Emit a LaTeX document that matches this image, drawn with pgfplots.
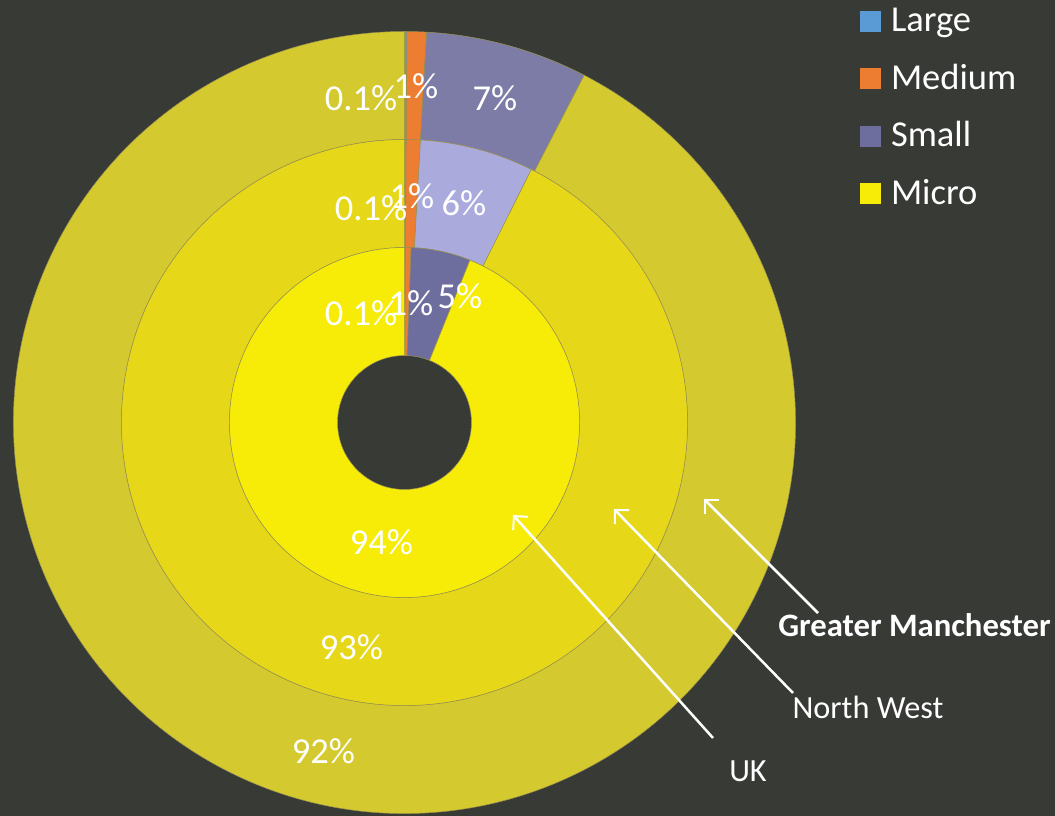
\documentclass[border=0pt]{standalone}
\usepackage{pgfplots}
\pgfplotsset{compat=1.18}
\usepackage{pgfplotstable}
\usepackage{fontspec}
\setmainfont{Carlito}
\usetikzlibrary{arrows.meta}

\definecolor{bgcol}{HTML}{383A35}
\definecolor{gmLarge}{HTML}{5B9BD5}
\definecolor{gmMedium}{HTML}{ED7D31}
\definecolor{gmSmall}{HTML}{7C7CA6}
\definecolor{gmMicro}{HTML}{D4C92E}
\definecolor{nwLarge}{HTML}{5B9BD5}
\definecolor{nwMedium}{HTML}{ED7D31}
\definecolor{nwSmall}{HTML}{AAAADC}
\definecolor{nwMicro}{HTML}{E6D818}
\definecolor{ukLarge}{HTML}{5B9BD5}
\definecolor{ukMedium}{HTML}{ED7D31}
\definecolor{ukSmall}{HTML}{6E6E9E}
\definecolor{ukMicro}{HTML}{F7EC08}
\definecolor{wedgeline}{HTML}{9A9250}

% Greater Manchester (outer ring)
\pgfplotstableread{
size pct
Large 0.1
Medium 0.8
Small 6.7
Micro 92.4
}\gmtable
% North West (middle ring)
\pgfplotstableread{
size pct
Large 0.1
Medium 0.8
Small 6.5
Micro 92.6
}\nwtable
% UK (inner ring)
\pgfplotstableread{
size pct
Large 0.1
Medium 0.5
Small 5.5
Micro 93.9
}\uktable

\newcommand\drawring[4]{% #1 table, #2 colour prefix, #3 inner radius, #4 outer radius
  \def\cum{0}%
  \pgfmathsetmacro\dr{#4-#3}%
  \pgfplotsforeachungrouped \i in {0,...,3}{%
    \pgfplotstablegetelem{\i}{pct}\of{#1}\let\val\pgfplotsretval
    \pgfplotstablegetelem{\i}{size}\of{#1}\let\nm\pgfplotsretval
    \pgfmathsetmacro\aA{90-3.6*\cum}%
    \pgfmathsetmacro\aB{90-3.6*(\cum+\val)}%
    \pgfmathsetmacro\aC{\aB+180}%
    \pgfmathsetmacro\cum{\cum+\val}%
    \edef\temp{\noexpand\fill[fill=#2\nm, draw=wedgeline, line width=0.5pt]
      (axis cs:404.5,393.5) ++(\aA:#4pt) arc[start angle=\aA, end angle=\aB, radius=#4pt]
      -- ++(\aC:\dr pt) arc[start angle=\aB, end angle=\aA, radius=#3pt] -- cycle;}%
    \temp
  }%
}

\begin{document}
\begin{tikzpicture}
\begin{axis}[
  width=1055pt, height=816pt, scale only axis,
  xmin=0, xmax=1055, ymin=0, ymax=816,
  axis lines=none, ticks=none, clip=false,
  legend style={draw=none, fill=none, text=white, font=\fontsize{36.5}{42}\selectfont,
    at={(axis cs:860,810)}, anchor=north west, row sep=23.5pt, column sep=10pt,
    inner sep=0pt, outer sep=0pt,
    nodes={inner sep=0pt, text height=26pt, text depth=8pt}},
  legend cell align=left,
  legend image code/.code={\fill[#1, draw=none] (0pt,-9pt) rectangle (21pt,12pt);},
]
\fill[bgcol] (axis cs:0,0) rectangle (axis cs:1055,816);
\coordinate (BL) at (axis cs:0,0);
\coordinate (TR) at (axis cs:1055,816);

\drawring{\gmtable}{gm}{283}{391}
\drawring{\nwtable}{nw}{175}{283}
\drawring{\uktable}{uk}{67}{175}

\addlegendimage{fill=gmLarge, draw=none}
\addlegendentry{Large}
\addlegendimage{fill=gmMedium, draw=none}
\addlegendentry{Medium}
\addlegendimage{fill=ukSmall, draw=none}
\addlegendentry{Small}
\addlegendimage{fill=ukMicro, draw=none}
\addlegendentry{Micro}

% percentage labels
\begin{scope}[every node/.style={text=white, font=\fontsize{36.5}{42}\selectfont, inner sep=0pt, anchor=center}]
\node at (axis cs:361,718) {0.1\%};
\node at (axis cs:416,730) {1\%};
\node at (axis cs:495,718) {7\%};
\node at (axis cs:323.5,64.5) {92\%};
\node at (axis cs:371,608) {0.1\%};
\node at (axis cs:412,620) {1\%};
\node at (axis cs:464,613) {6\%};
\node at (axis cs:351.5,168.5) {93\%};
\node at (axis cs:361,503) {0.1\%};
\node at (axis cs:411,513) {1\%};
\node at (axis cs:460,520) {5\%};
\node at (axis cs:381.5,273.5) {94\%};
\end{scope}

% annotation arrows
\begin{scope}[white, line width=2.5pt, -{Straight Barb[length=10pt,width=20pt,line width=2pt]}]
\draw (axis cs:818,203) -- (axis cs:704,317);
\draw (axis cs:793,123) -- (axis cs:614,307);
\draw (axis cs:713,78) -- (axis cs:513,301);
\end{scope}
\node[text=white, font=\fontsize{32.7}{38}\selectfont\bfseries, anchor=base, inner sep=0pt] at (axis cs:914.5,179) {Greater Manchester};
\node[text=white, font=\fontsize{32.3}{38}\selectfont, anchor=base, inner sep=0pt] at (axis cs:868,97) {North West};
\node[text=white, font=\fontsize{32.3}{38}\selectfont, anchor=base, inner sep=0pt] at (axis cs:748,34) {UK};
\end{axis}
\pgfresetboundingbox
\useasboundingbox (BL) rectangle (TR);
\end{tikzpicture}
\end{document}
